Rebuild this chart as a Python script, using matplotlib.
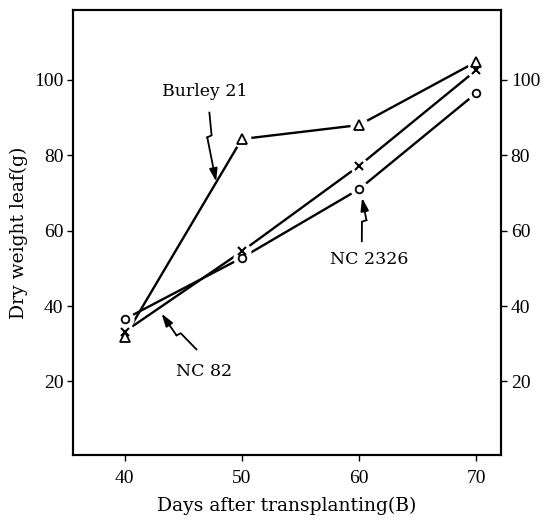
import matplotlib
matplotlib.use("Agg")
import matplotlib.pyplot as plt
import numpy as np

plt.rcParams['font.family'] = ['DejaVu Serif']

days = [40, 50, 60, 70]
burley21 = [31.8, 84.3, 88.0, 104.8]
nc82 = [33.2, 54.5, 77.2, 102.6]
nc2326 = [36.5, 52.8, 71.0, 96.5]
yticks = [20, 40, 60, 80, 100]
xticks = [40, 50, 60, 70]

fig = plt.figure(figsize=(5.42, 5.21), dpi=100)
ax = fig.add_axes([0.1347, 0.1267, 0.7897, 0.854])
ax.set_xlim(35.6, 72.1)
ax.set_ylim(0.5, 118.5)

series = [(burley21, '^', 7), (nc82, 'x', 6), (nc2326, 'o', 5.5)]
for vals, m, ms in series:
    ax.plot(days, vals, color='black', lw=1.7, solid_capstyle='butt', zorder=2)
for vals, m, ms in series:
    ax.plot(days, vals, linestyle='none', marker='o', ms=13, mfc='white', mec='none', zorder=3)
for vals, m, ms in series:
    if m == 'x':
        ax.plot(days, vals, linestyle='none', marker=m, ms=ms, mec='black', mew=1.5, zorder=4)
    else:
        ax.plot(days, vals, linestyle='none', marker=m, ms=ms, mfc='white', mec='black', mew=1.3, zorder=4)

fs = 12.5


def bolt(start, end, t, side):
    # arrow with a small lightning-bolt kink, drawn in display space
    S = ax.transData.transform(start)
    E = ax.transData.transform(end)
    d = E - S
    L = np.hypot(*d)
    u = d / L
    n = np.array([-u[1], u[0]]) * side
    A = S + u * L * t
    B = A + n * 4.5 + u * 1.5
    pts = ax.transData.inverted().transform(np.array([S, A, B]))
    ax.plot(pts[:, 0], pts[:, 1], color='black', lw=1.3, zorder=5,
            solid_joinstyle='miter')
    b_data = ax.transData.inverted().transform(B)
    ax.annotate('', xy=end, xytext=b_data,
                arrowprops=dict(arrowstyle='-|>,head_length=0.7,head_width=0.22',
                                color='black', lw=1.3,
                                mutation_scale=11, shrinkA=0, shrinkB=0), zorder=5)


ax.text(46.8, 96.8, 'Burley 21', fontsize=fs, ha='center', va='center')
bolt((47.23, 91.3), (47.8, 73.0), 0.33, -1)

ax.text(60.85, 52.3, 'NC 2326', fontsize=fs, ha='center', va='center')
bolt((60.23, 57.2), (60.25, 68.7), 0.45, -1)

ax.text(46.8, 22.6, 'NC 82', fontsize=fs, ha='center', va='center')
bolt((46.13, 28.5), (43.15, 38.0), 0.45, 1)

ax.set_xticks(xticks)
ax.set_yticks(yticks)
ax.tick_params(axis='both', direction='out', length=4, width=1, pad=3)
ax.tick_params(axis='x', pad=7)
for lab in ax.get_xticklabels() + ax.get_yticklabels():
    lab.set_fontfamily('Liberation Serif')
    lab.set_fontsize(14)
ax.set_xlabel('Days after transplanting(B)', fontsize=13.5, labelpad=7)
ax.set_ylabel('Dry weight leaf(g)', fontsize=13.5, labelpad=4)
for s in ax.spines.values():
    s.set_linewidth(1.5)

ax2 = ax.twinx()
ax2.set_ylim(ax.get_ylim())
ax2.set_yticks(yticks)
ax2.tick_params(axis='y', direction='out', length=4, width=1, pad=3)
for lab in ax2.get_yticklabels():
    lab.set_fontfamily('Liberation Serif')
    lab.set_fontsize(14)
for s in ax2.spines.values():
    s.set_linewidth(1.5)

fig.savefig('out.png', dpi=100)
